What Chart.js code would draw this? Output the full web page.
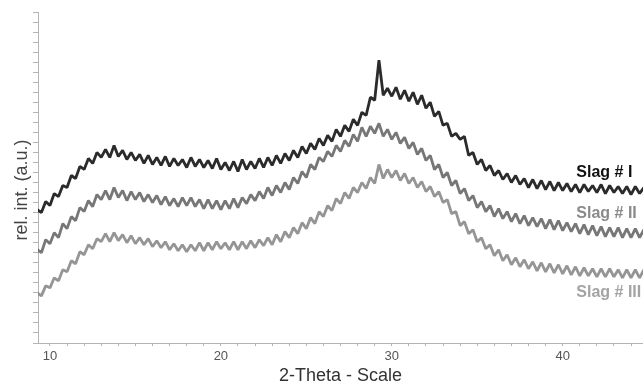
<!DOCTYPE html>
<html>
<head>
<meta charset="utf-8">
<script src="https://cdn.jsdelivr.net/npm/chart.js@4"></script>
<style>
  html, body { margin: 0; padding: 0; background: #fff; }
</style>
</head>
<body>
<canvas id="xrdChart" width="643" height="385"></canvas>
<script>
// 2-theta positions (degrees)
var theta = [
  9.25, 9.5, 9.75, 10,
  10.25, 10.5, 10.75, 11,
  11.25, 11.5, 11.75, 12,
  12.25, 12.5, 12.75, 13,
  13.25, 13.5, 13.75, 14,
  14.25, 14.5, 14.75, 15,
  15.25, 15.5, 15.75, 16,
  16.25, 16.5, 16.75, 17,
  17.25, 17.5, 17.75, 18,
  18.25, 18.5, 18.75, 19,
  19.25, 19.5, 19.75, 20,
  20.25, 20.5, 20.75, 21,
  21.25, 21.5, 21.75, 22,
  22.25, 22.5, 22.75, 23,
  23.25, 23.5, 23.75, 24,
  24.25, 24.5, 24.75, 25,
  25.25, 25.5, 25.75, 26,
  26.25, 26.5, 26.75, 27,
  27.25, 27.5, 27.75, 28,
  28.25, 28.5, 28.75, 29,
  29.25, 29.5, 29.75, 30,
  30.25, 30.5, 30.75, 31,
  31.25, 31.5, 31.75, 32,
  32.25, 32.5, 32.75, 33,
  33.25, 33.5, 33.75, 34,
  34.25, 34.5, 34.75, 35,
  35.25, 35.5, 35.75, 36,
  36.25, 36.5, 36.75, 37,
  37.25, 37.5, 37.75, 38,
  38.25, 38.5, 38.75, 39,
  39.25, 39.5, 39.75, 40,
  40.25, 40.5, 40.75, 41,
  41.25, 41.5, 41.75, 42,
  42.25, 42.5, 42.75, 43,
  43.25, 43.5, 43.75, 44,
  44.25, 44.5, 44.75
];

// relative intensities
var slagI = [
  133, 130, 141, 137,
  149, 146, 157, 155,
  167, 164, 176, 173,
  184, 179, 190, 185,
  193, 185, 197, 186,
  192, 183, 190, 182,
  188, 179, 187, 178,
  185, 177, 186, 176,
  184, 177, 183, 175,
  185, 176, 183, 175,
  182, 174, 184, 173,
  180, 172, 181, 171,
  183, 173, 181, 174,
  184, 175, 185, 177,
  187, 179, 189, 182,
  192, 185, 196, 189,
  199, 193, 204, 197,
  207, 201, 213, 206,
  217, 211, 223, 217,
  230, 227, 245, 242,
  282, 247, 254, 246,
  255, 243, 252, 241,
  250, 238, 247, 234,
  240, 226, 231, 217,
  219, 206, 209, 203,
  206, 187, 190, 178,
  183, 172, 177, 167,
  172, 163, 169, 160,
  167, 158, 164, 155,
  163, 154, 162, 153,
  161, 152, 160, 152,
  159, 151, 158, 150,
  158, 151, 157, 150,
  158, 149, 157, 150,
  156, 149, 156, 148,
  156, 149, 155
];

var slagII = [
  93, 90, 103, 99,
  110, 105, 119, 114,
  126, 122, 135, 131,
  142, 136, 148, 143,
  152, 143, 155, 145,
  152, 142, 151, 143,
  150, 141, 148, 140,
  147, 138, 146, 137,
  144, 136, 145, 137,
  145, 136, 143, 134,
  143, 134, 142, 133,
  142, 134, 144, 135,
  145, 139, 148, 142,
  151, 144, 155, 147,
  157, 150, 160, 153,
  165, 159, 171, 165,
  178, 173, 185, 181,
  191, 186, 197, 191,
  202, 196, 208, 201,
  215, 206, 216, 209,
  219, 206, 213, 203,
  210, 199, 205, 194,
  200, 188, 194, 182,
  187, 173, 178, 165,
  170, 157, 162, 149,
  154, 142, 147, 135,
  141, 131, 137, 126,
  134, 124, 131, 121,
  129, 119, 127, 117,
  125, 116, 124, 114,
  123, 113, 122, 112,
  120, 111, 119, 109,
  118, 108, 117, 107,
  116, 106, 115, 106,
  115, 105, 114, 105,
  114, 105, 113
];

var slagIII = [
  50, 47, 57, 55,
  65, 62, 73, 71,
  82, 79, 91, 88,
  98, 94, 104, 101,
  109, 101, 110, 102,
  108, 100, 107, 99,
  105, 98, 104, 96,
  102, 95, 101, 93,
  99, 92, 98, 91,
  98, 92, 100, 92,
  100, 93, 101, 94,
  100, 93, 101, 93,
  101, 94, 102, 95,
  103, 97, 105, 98,
  108, 101, 111, 105,
  115, 109, 120, 114,
  125, 119, 131, 126,
  137, 132, 144, 139,
  150, 144, 155, 150,
  160, 154, 165, 159,
  178, 164, 173, 165,
  172, 162, 169, 159,
  165, 155, 161, 151,
  156, 146, 151, 140,
  143, 129, 131, 117,
  121, 109, 113, 101,
  105, 94, 98, 87,
  93, 82, 88, 78,
  85, 76, 83, 74,
  81, 72, 80, 71,
  79, 70, 78, 69,
  77, 68, 76, 67,
  75, 67, 74, 66,
  74, 66, 74, 66,
  73, 65, 73, 65,
  73, 65, 73
];

var seriesNames = ['Slag # I', 'Slag # II', 'Slag # III'];

function toPoints(values) {
	var pts = [];
	for (var i = 0; i < theta.length && i < values.length; i++) {
		pts.push({ x: theta[i], y: values[i] });
	}
	return pts;
}

// writes the sample names next to the right end of each trace
var seriesLabels = {
	id: 'seriesLabels',
	afterDatasetsDraw: function(chart, args, opts) {
		var ctx = chart.ctx;
		var xs = chart.scales.x;
		var ys = chart.scales.y;
		ctx.save();
		ctx.textBaseline = 'middle';
		ctx.textAlign = 'left';
		chart.data.datasets.forEach(function(ds, i) {
			ctx.font = 'bold 16px "Liberation Sans", Arial, sans-serif';
			ctx.fillStyle = opts.colors[i];
			ctx.fillText(ds.label, xs.getPixelForValue(opts.at), ys.getPixelForValue(opts.levels[i]));
		});
		ctx.restore();
	}
};

var xrdChartElement = document.getElementById('xrdChart');
var xrdChart = new Chart(xrdChartElement, {
	type: 'line',
	data: {
		datasets: [
		{
			label: seriesNames[0],
			borderColor: 'rgba(20, 20, 20, 0.9)',
			borderWidth: 2.8,
			data: toPoints(slagI)
		},
		{
			label: seriesNames[1],
			borderColor: 'rgba(95, 95, 95, 0.85)',
			borderWidth: 2.8,
			data: toPoints(slagII)
		},
		{
			label: seriesNames[2],
			borderColor: 'rgba(130, 130, 130, 0.85)',
			borderWidth: 2.8,
			data: toPoints(slagIII)
		}
		]
	},
	options: {
		responsive: false,
		animation: false,
		layout: { padding: { top: 12, right: 0, left: 0, bottom: 0 } },
		elements: {
			point: { radius: 0 },
			line: { tension: 0, borderJoinStyle: 'bevel' }
		},
		plugins: {
			legend: { display: false },
			tooltip: { enabled: false },
			seriesLabels: {
				at: 40.8,
				levels: [170, 129, 50],
				colors: ['#111111', '#8a8a8a', '#a3a3a3']
			}
		},
		scales: {
			x: {
				type: 'linear',
				min: 9.3,
				max: 44.7,
				border: { color: '#b4b4b4', width: 1 },
				grid: { drawOnChartArea: false, drawTicks: true, tickLength: 3, color: '#b4b4b4' },
				ticks: {
					stepSize: 1,
					autoSkip: false,
					includeBounds: false,
					maxRotation: 0,
					padding: 3,
					color: '#555',
					font: { family: '"Liberation Sans", Arial, sans-serif', size: 13 },
					callback: function(v) { return v % 10 === 0 ? v : ''; }
				},
				title: {
					display: true,
					text: '2-Theta - Scale',
					color: '#333',
					font: { family: '"Liberation Sans", Arial, sans-serif', size: 18, lineHeight: 1 },
					padding: { top: 0, bottom: 0 }
				},
				afterFit: function(scale) { scale.height = 42; }
			},
			y: {
				min: 0,
				max: 330,
				border: { color: '#b4b4b4', width: 1 },
				grid: { drawOnChartArea: false, drawTicks: true, tickLength: 5, color: '#b4b4b4' },
				ticks: {
					stepSize: 10,
					autoSkip: false,
					callback: function() { return ''; }
				},
				title: {
					display: true,
					text: 'rel. int. (a.u.)\u00a0\u00a0\u00a0\u00a0\u00a0',
					color: '#444',
					font: { family: '"Liberation Sans", Arial, sans-serif', size: 18, lineHeight: 1.2 },
					padding: { top: 11, bottom: 0 }
				},
				afterFit: function(scale) { scale.width = 38; }
			}
		}
	},
	plugins: [seriesLabels]
});

window.xrdChart = xrdChart;
</script>
</body>
</html>
